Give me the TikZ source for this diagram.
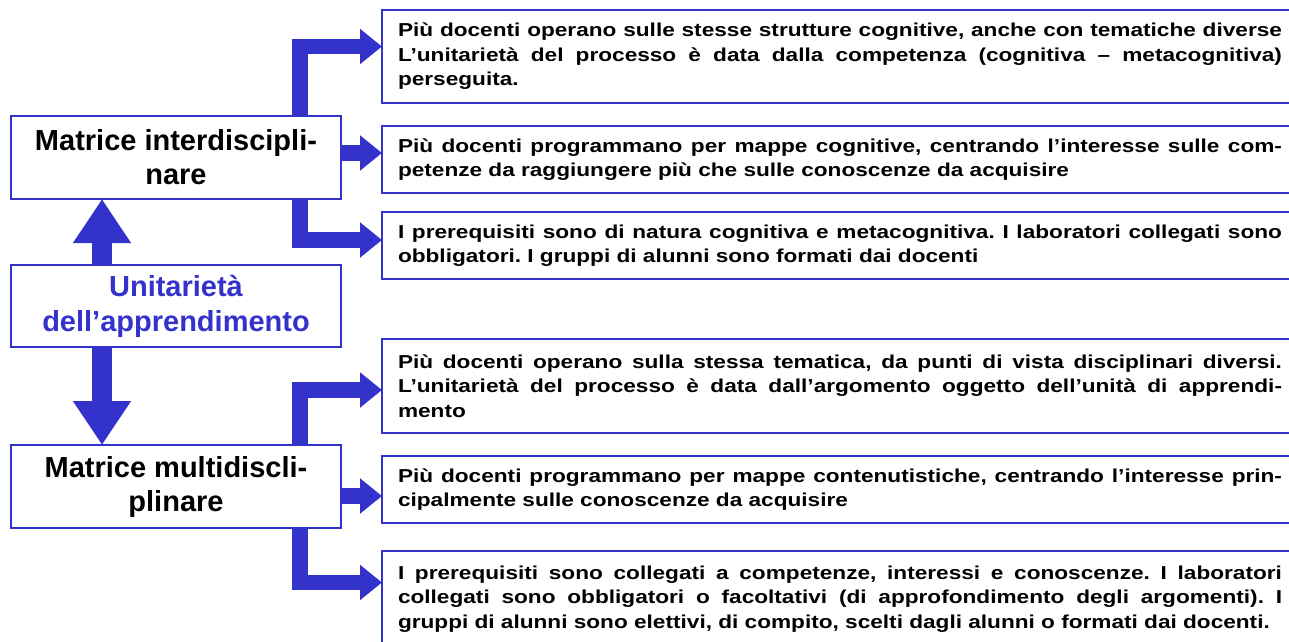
\documentclass[tikz,border=0pt]{standalone}
\usepackage{fontspec}
\setmainfont{Liberation Sans}
\newfontfamily\rfont[FakeStretch=1.21]{Liberation Sans}
\usetikzlibrary{arrows.meta}
\definecolor{dblue}{RGB}{51,51,204}
\newcommand\jl[1]{\leavevmode\hbox to 884pt{\spaceskip=0.27em plus 1fil\xspaceskip=0.27em plus 1fil\relax #1}}
\begin{document}
\frenchspacing
\begin{tikzpicture}[x=1pt,y=-1pt,
 leftbox/.style={draw=dblue, line width=1.6pt, fill=white, minimum width=330pt, minimum height=83pt, anchor=north west, align=center, inner sep=0pt, outer sep=0pt, font=\bfseries\fontsize{29}{34}\selectfont},
 rightbox/.style={draw=dblue, line width=1.6pt, fill=white, text width=884pt, inner xsep=16pt, inner ysep=0pt, outer sep=0pt, anchor=north west, align=left, font=\rfont\bfseries\fontsize{18.7}{24.5}\selectfont},
 fat/.style={draw=dblue, line width=15.5pt, line join=miter, -{Triangle[width=34pt,length=22pt]}},
 vfat/.style={draw=dblue, line width=20pt, -{Triangle[width=55pt,length=44pt]}}]
\useasboundingbox (0,0) rectangle (1289,641);

\node[leftbox] (li) at (11,116) {Matrice interdiscipli-\\nare};
\node[leftbox, minimum height=82pt, text=dblue, font=\bfseries\fontsize{29}{35}\selectfont] (lu) at (11,265) {Unitarietà\\dell’apprendimento};
\node[leftbox] (lm) at (11,445) {Matrice multidiscli-\\plinare};

\node[rightbox, minimum height=93pt] (rb1) at (382,10) {\jl{Più docenti operano sulle stesse strutture cognitive, anche con tematiche diverse}\\\jl{L’unitarietà del processo è data dalla competenza (cognitiva – metacognitiva)}\\perseguita.};
\node[rightbox, minimum height=67pt] (rb2) at (382,126) {\jl{Più docenti programmano per mappe cognitive, centrando l’interesse sulle com-}\\petenze da raggiungere più che sulle conoscenze da acquisire};
\node[rightbox, minimum height=67pt] (rb3) at (382,212) {\jl{I prerequisiti sono di natura cognitiva e metacognitiva. I laboratori collegati sono}\\obbligatori. I gruppi di alunni sono formati dai docenti};
\node[rightbox, minimum height=94pt] (rb4) at (382,339) {\jl{Più docenti operano sulla stessa tematica, da punti di vista disciplinari diversi.}\\\jl{L’unitarietà del processo è data dall’argomento oggetto dell’unità di apprendi-}\\mento};
\node[rightbox, minimum height=67pt] (rb5) at (382,456) {\jl{Più docenti programmano per mappe contenutistiche, centrando l’interesse prin-}\\cipalmente sulle conoscenze da acquisire};
\node[rightbox, minimum height=96pt] (rb6) at (382,551) {\jl{I prerequisiti sono collegati a competenze, interessi e conoscenze. I laboratori}\\\jl{collegati sono obbligatori o facoltativi (di approfondimento degli argomenti). I}\\gruppi di alunni sono elettivi, di compito, scelti dagli alunni o formati dai docenti.};

\draw[vfat] ([xshift=91pt]lu.north west) -- ([xshift=91pt]li.south west);
\draw[vfat] ([xshift=91pt]lu.south west) -- ([xshift=91pt]lm.north west);

\draw[fat] ([xshift=289pt]li.north west) |- ([yshift=-36.5pt]rb1.north west);
\draw[fat] ([yshift=-37pt]li.north east) -- ([yshift=-27pt]rb2.north west);
\draw[fat] ([xshift=289pt]li.south west) |- ([yshift=-28pt]rb3.north west);
\draw[fat] ([xshift=289pt]lm.north west) |- ([yshift=-51pt]rb4.north west);
\draw[fat] ([yshift=-51pt]lm.north east) -- ([yshift=-40pt]rb5.north west);
\draw[fat] ([xshift=289pt]lm.south west) |- ([yshift=-31.5pt]rb6.north west);
\end{tikzpicture}
\end{document}
